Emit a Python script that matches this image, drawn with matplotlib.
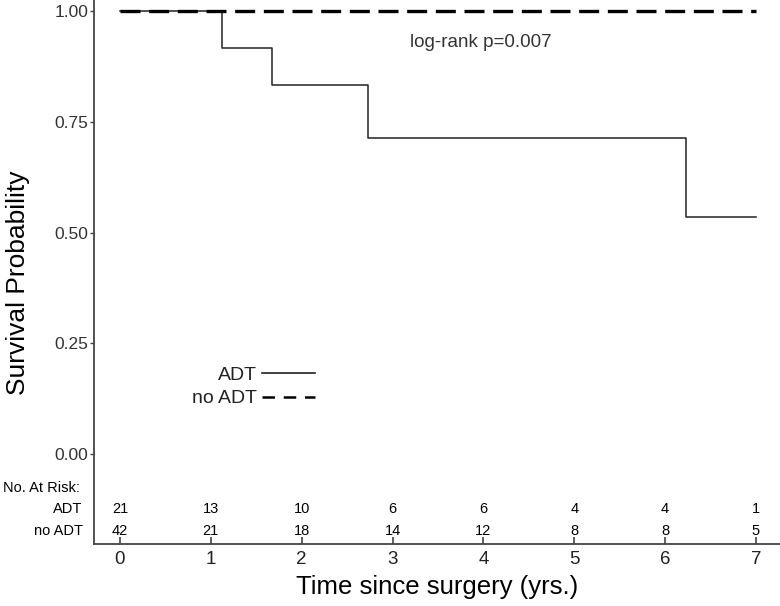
import matplotlib
matplotlib.use("Agg")
import matplotlib.pyplot as plt

plt.rcParams['font.family'] = ['Liberation Sans', 'DejaVu Sans']
narrow = ['Liberation Sans Narrow', 'Liberation Sans', 'DejaVu Sans']

# Kaplan-Meier steps (time, survival)
adt_time = [0, 1.12, 1.67, 2.73, 6.23, 7.0]
adt_surv = [1.0, 0.917, 0.833, 0.714, 0.536, 0.536]
noadt_time = [0, 7.0]
noadt_surv = [1.0, 1.0]

x_ticks = [0, 1, 2, 3, 4, 5, 6, 7]
y_ticks = [0.0, 0.25, 0.5, 0.75, 1.0]
y_tick_labels = ["0.00", "0.25", "0.50", "0.75", "1.00"]

risk_adt = [21, 13, 10, 6, 6, 4, 4, 1]
risk_noadt = [42, 21, 18, 14, 12, 8, 8, 5]

fig = plt.figure(figsize=(7.8, 6.06), dpi=100)
ax = fig.add_axes([94 / 780, 62 / 606, 686 / 780, 544 / 606])

ax.step(adt_time, adt_surv, where="post", color="#222222", lw=1.1, label="ADT")
ax.step(noadt_time, noadt_surv, where="post", color="black", lw=2.4,
        dashes=(6, 2.6), label="no ADT")

ax.set_xlim(-0.286, 7.264)
ax.set_ylim(-0.203, 1.025)

ax.spines["top"].set_visible(False)
ax.spines["right"].set_visible(False)
for s in ("left", "bottom"):
    ax.spines[s].set_color("#444444")
    ax.spines[s].set_linewidth(1.3)

ax.set_yticks(y_ticks)
ax.set_yticklabels(y_tick_labels, fontsize=12.5, color="#333333")
ax.tick_params(axis="y", length=3, width=1, color="#444444", pad=1)
ax.set_xticks(x_ticks)
ax.set_xticklabels([str(t) for t in x_ticks], fontsize=13.5, color="#222222",
                   family=narrow)
ax.tick_params(axis="x", direction="in", length=5, width=1.2, color="#444444", pad=5)

ax.set_xlabel("Time since surgery (yrs.)", fontsize=18.5, labelpad=5)
ax.set_ylabel("Survival Probability", fontsize=19)
ax.yaxis.set_label_coords(-0.093, 0.48)

ax.text(3.19, 0.93, "log-rank p=0.007", fontsize=13.5, color="#333333",
        ha="left", va="center")

# number at risk table
ax.text(-1.29, -0.077, "No. At Risk:", fontsize=10.5, ha="left", va="center",
        clip_on=False, family=narrow)
ax.text(-0.41, -0.124, "ADT", fontsize=10.5, ha="right", va="center",
        clip_on=False, family=narrow)
ax.text(-0.41, -0.174, "no ADT", fontsize=10.5, ha="right", va="center",
        clip_on=False, family=narrow)
for t, a, n in zip(x_ticks, risk_adt, risk_noadt):
    ax.text(t, -0.124, str(a), fontsize=10.5, ha="center", va="center", family=narrow)
    ax.text(t, -0.174, str(n), fontsize=10.5, ha="center", va="center", family=narrow)

leg = ax.legend(loc="center left", bbox_to_anchor=(0.118, 0.289), frameon=False,
                markerfirst=False, fontsize=14, handlelength=2.7,
                handletextpad=0.25, labelspacing=0.3)
for t in leg.get_texts():
    t.set_color("#222222")
leg.get_lines()[0].set_linewidth(1.2)
leg.get_lines()[1].set_linewidth(1.8)
leg.get_lines()[1].set_dashes((5, 3.5))

fig.savefig("out.png", dpi=100)
